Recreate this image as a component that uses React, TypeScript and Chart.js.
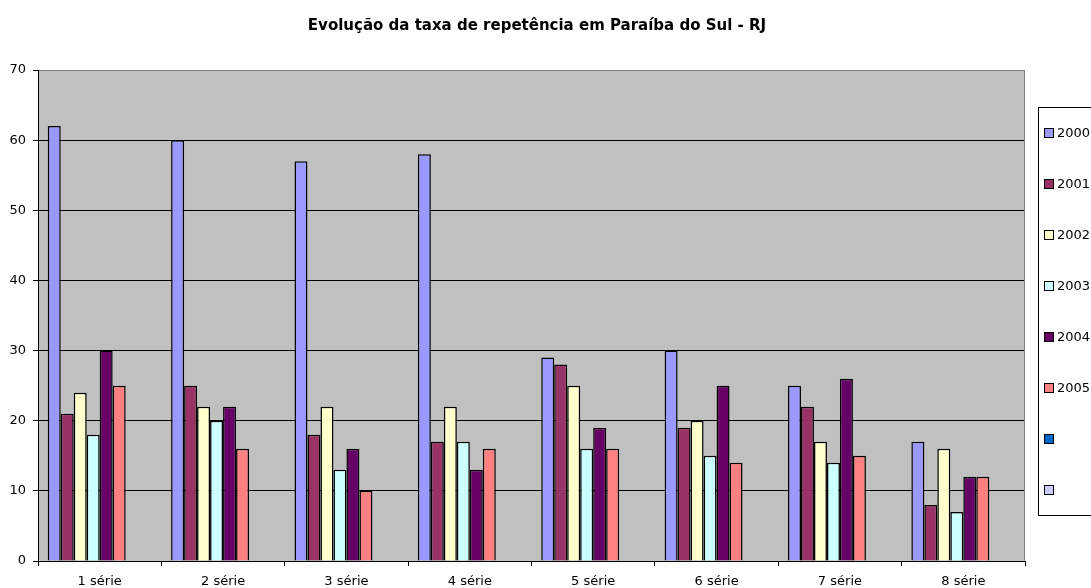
import React, { useEffect, useRef } from 'react';
import { Chart, registerables } from 'chart.js';

Chart.register(...registerables);

const TITLE = 'Evolução da taxa de repetência em Paraíba do Sul - RJ';

const categories = ['1 série', '2 série', '3 série', '4 série', '5 série', '6 série', '7 série', '8 série'];

const seriesLabels = ['2000', '2001', '2002', '2003', '2004', '2005', '', ''];

const s2000 = [62, 60, 57, 58, 29, 30, 25, 17];
const s2001 = [21, 25, 18, 17, 28, 19, 22, 8];
const s2002 = [24, 22, 22, 22, 25, 20, 17, 16];
const s2003 = [18, 20, 13, 17, 16, 15, 14, 7];
const s2004 = [30, 22, 16, 13, 19, 25, 26, 12];
const s2005 = [25, 16, 10, 16, 16, 14, 15, 12];
const sEmptyA: number[] = [];
const sEmptyB: number[] = [];

const seriesValues = [s2000, s2001, s2002, s2003, s2004, s2005, sEmptyA, sEmptyB];

const seriesColors = ['#9999FF', '#993366', '#FFFFCC', '#CCFFFF', '#660066', '#FF8080', '#0066CC', '#CCCCFF'];

const Y_MIN = 0;
const Y_MAX = 70;
const Y_STEP = 10;

const FONT = 'DejaVu Sans';

const plotDecor = {
  id: 'plotDecor',
  beforeDraw(chart: any) {
    const { ctx, chartArea: a } = chart;
    ctx.save();
    ctx.fillStyle = '#C0C0C0';
    ctx.fillRect(a.left, a.top, a.right - a.left, a.bottom - a.top);
    ctx.restore();
  },
  afterDraw(chart: any) {
    const { ctx, chartArea: a } = chart;
    ctx.save();
    // right border of plot area
    ctx.strokeStyle = '#808080';
    ctx.lineWidth = 1;
    const rx = Math.round(a.right) - 0.5;
    ctx.beginPath();
    ctx.moveTo(rx, a.top);
    ctx.lineTo(rx, a.bottom);
    ctx.stroke();

    // legend box
    const boxLeft = 1038.5;
    const boxTop = 107.5;
    const boxBottom = 515.5;
    ctx.strokeStyle = '#000';
    ctx.strokeRect(boxLeft, boxTop, 200, boxBottom - boxTop);

    const datasets = chart.data.datasets;
    ctx.font = `13px "${FONT}"`;
    ctx.textBaseline = 'middle';
    ctx.textAlign = 'left';
    datasets.forEach((ds: any, i: number) => {
      const y = 133 + i * 51;
      ctx.fillStyle = ds.backgroundColor;
      ctx.fillRect(1045, y - 4, 8, 8);
      ctx.strokeStyle = '#000';
      ctx.strokeRect(1044.5, y - 4.5, 9, 9);
      if (ds.label) {
        ctx.fillStyle = '#000';
        ctx.fillText(ds.label, 1057, y + 1);
      }
    });
    ctx.restore();
  },
};

export default function App() {
  const canvasRef = useRef<HTMLCanvasElement | null>(null);

  useEffect(() => {
    if (!canvasRef.current) return;
    Chart.defaults.font.family = FONT;
    const chart = new Chart(canvasRef.current, {
      type: 'bar',
      data: {
        labels: categories,
        datasets: seriesValues.map((vals, i) => ({
          label: seriesLabels[i],
          data: vals,
          backgroundColor: seriesColors[i],
          borderColor: '#000',
          borderWidth: 1.5,
          borderSkipped: 'start',
          categoryPercentage: 8 / 9.5,
          barPercentage: 1,
        })),
      },
      options: {
        responsive: false,
        animation: false,
        devicePixelRatio: 1,
        layout: { padding: { left: 0, right: 17, top: 0, bottom: 0 } },
        plugins: {
          legend: { display: false },
          tooltip: { enabled: false },
          title: {
            display: true,
            text: TITLE,
            color: '#000',
            font: { family: FONT, size: 15, weight: 'bold' },
            padding: { top: 17, bottom: 35 },
          },
        },
        scales: {
          x: {
            offset: true,
            grid: {
              offset: true,
              drawOnChartArea: false,
              drawTicks: true,
              tickLength: 5,
              color: '#000',
              tickColor: '#000',
            },
            border: { display: true, color: '#000', width: 1 },
            ticks: { color: '#000', font: { family: FONT, size: 13 }, padding: 8, maxRotation: 0, autoSkip: false },
            afterFit(scale: any) {
              scale.height = 27;
            },
          },
          y: {
            min: Y_MIN,
            max: Y_MAX,
            ticks: { stepSize: Y_STEP, color: '#000', font: { family: FONT, size: 13 }, padding: 7 },
            grid: {
              color: (c: any) => (c.tick && c.tick.value === Y_MAX ? '#808080' : '#000'),
              tickColor: '#000',
              tickLength: 5,
              lineWidth: 1,
            },
            border: { display: true, color: '#000', width: 1 },
            afterFit(scale: any) {
              scale.width = 38;
            },
          },
          spacer: {
            type: 'linear',
            position: 'right',
            display: true,
            grid: { display: false, drawTicks: false },
            border: { display: false },
            ticks: { display: false },
            afterFit(scale: any) {
              scale.width = 49;
            },
          },
        },
      },
      plugins: [plotDecor],
    } as any);
    return () => chart.destroy();
  }, []);

  return (
    <div style={{ position: 'absolute', left: 0, top: 0, width: 1091, height: 588, overflow: 'hidden', background: '#fff' }}>
      <canvas ref={canvasRef} width={1091} height={588} style={{ display: 'block' }} />
    </div>
  );
}
